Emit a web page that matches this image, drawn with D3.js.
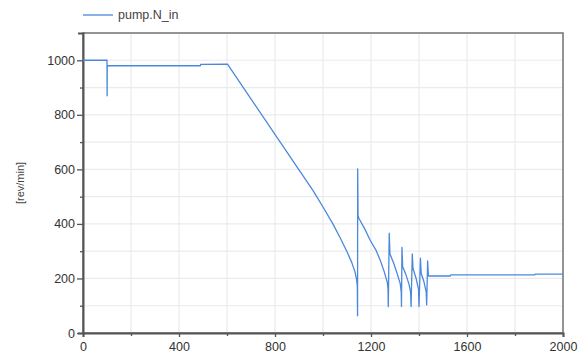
<!DOCTYPE html>
<html>
<head>
<meta charset="utf-8">
<script src="https://cdn.jsdelivr.net/npm/d3@7"></script>
<style>
  body { margin: 0; background: #fff; }
  text { font-family: "Liberation Sans", Arial, sans-serif; }
</style>
</head>
<body>
<div id="chart"></div>
<script>
// time [s] and pump speed [rev/min]
const times = [0, 100, 100.5, 101, 103, 489, 490, 602, 900, 960, 1000, 1040, 1071, 1100, 1120, 1133, 1140, 1143,
  1144, 1144.5, 1146, 1150, 1175, 1196, 1220, 1238, 1255, 1268, 1271, 1272,
  1276, 1279, 1295, 1310, 1322, 1326, 1327,
  1329, 1332, 1345, 1358, 1365, 1367,
  1372, 1375, 1388, 1398, 1400,
  1406, 1409, 1420, 1430, 1432,
  1436, 1439, 1530, 1532, 1882, 1884, 2000];
const speeds = [1000, 1000, 870, 975, 980, 980, 985, 986, 598, 520, 462, 402, 350, 298, 258, 225, 196, 172,
  63, 602, 430, 420, 380, 341, 305, 268, 225, 185, 160, 97,
  366, 290, 255, 215, 180, 150, 97,
  314, 243, 215, 180, 150, 97,
  290, 237, 200, 160, 97,
  274, 219, 190, 150, 103,
  264, 209, 209, 213, 213, 216, 216];

const xTicks = [0, 400, 800, 1200, 1600, 2000];
const yTicks = [0, 200, 400, 600, 800, 1000];
const seriesName = "pump.N_in";
const yLabel = "[rev/min]";

const W = 588, H = 359;
const margin = { top: 33, right: 25, bottom: 26, left: 83 },
      width = 563 - margin.left,
      height = 333 - margin.top;

const svg = d3.select("#chart").append("svg")
  .attr("width", W).attr("height", H);

const g = svg.append("g").attr("transform", `translate(${margin.left},${margin.top})`);

const x = d3.scaleLinear().domain([0, 2000]).range([0, width]);
const y = d3.scaleLinear().domain([0, 1100]).range([height, 0]);

// grid
g.append("g").selectAll("line").data(d3.range(200, 2000, 200)).join("line")
  .attr("x1", d => x(d)).attr("x2", d => x(d))
  .attr("y1", 0).attr("y2", height)
  .attr("stroke", "#ebebeb").attr("stroke-width", 1.2);
g.append("g").selectAll("line").data(d3.range(100, 1100, 100)).join("line")
  .attr("y1", d => y(d)).attr("y2", d => y(d))
  .attr("x1", 0).attr("x2", width)
  .attr("stroke", "#ebebeb").attr("stroke-width", 1.2);

// frame (top / right)
g.append("rect").attr("width", width).attr("height", height)
  .attr("fill", "none").attr("stroke", "#7a7a7a").attr("stroke-width", 1.6);

// axes
const xAxis = g.append("g").attr("transform", `translate(0,${height})`)
  .call(d3.axisBottom(x).tickValues(d3.range(0, 2001, 200))
    .tickFormat(d => xTicks.includes(d) ? d : "").tickSize(4).tickPadding(5));
const yAxis = g.append("g")
  .call(d3.axisLeft(y).tickValues(d3.range(0, 1001, 100))
    .tickFormat(d => yTicks.includes(d) ? d : "").tickSize(5).tickPadding(3));

[xAxis, yAxis].forEach(a => {
  a.select(".domain").attr("stroke", "#555").attr("stroke-width", 2);
  a.selectAll(".tick line").attr("stroke", "#555").attr("stroke-width", 1.3);
  a.selectAll("text").attr("fill", "#333").style("font-size", "12.5px")
    .style("font-family", "'Liberation Sans', Arial, sans-serif");
});
yAxis.selectAll(".tick line").attr("x2", d => yTicks.includes(d) ? -6 : -3);
xAxis.selectAll(".tick line").attr("y2", d => xTicks.includes(d) ? 4 : 3);

// series
const data = times.map((t, i) => ({ t, v: speeds[i] }));
g.append("path").datum(data)
  .attr("fill", "none")
  .attr("stroke", "#4a88dc")
  .attr("stroke-width", 1.3)
  .attr("stroke-linejoin", "round")
  .attr("d", d3.line().x(d => x(d.t)).y(d => y(d.v)));

// y label
svg.append("text")
  .attr("transform", `translate(24,183) rotate(-90)`)
  .attr("text-anchor", "middle")
  .attr("fill", "#444")
  .style("font-size", "11px")
  .text(yLabel);

// legend
svg.append("line").attr("x1", 83).attr("x2", 113).attr("y1", 15).attr("y2", 15)
  .attr("stroke", "#4a88dc").attr("stroke-width", 1.3);
svg.append("text").attr("x", 118).attr("y", 19)
  .attr("fill", "#444").style("font-size", "12.5px").text(seriesName);
</script>
</body>
</html>
